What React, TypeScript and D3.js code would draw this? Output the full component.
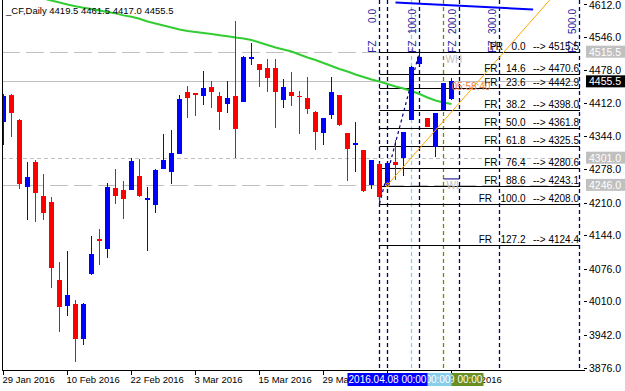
import React from "react";
import * as d3 from "d3";

// daily bars, index 0 = 29 Jan 2016
const opens = [4374, 4428, 4377, 4242, 4292, 4224, 4211, 4054, 4001, 4005, 3935, 4066, 4137, 4117, 4240, 4236, 4236, 4264, 4216, 4206, 4279, 4273, 4309, 4434, 4431, 4426, 4444, 4426, 4410, 4426, 4414, 4501, 4491, 4483, 4483, 4418, 4434, 4426, 4422, 4393, 4350, 4388, 4428, 4351, 4327, 4317, 4246, 4288, 4246, 4293, 4300, 4377, 4491, 4381, 4323, 4398, 4419.5];
const highs = [4430, 4430, 4379, 4292, 4296, 4268, 4221, 4090, 4112, 4013, 4007, 4143, 4157, 4250, 4278, 4254, 4300, 4298, 4242, 4278, 4349, 4357, 4428, 4446, 4431, 4476, 4456, 4434, 4456, 4578, 4507, 4533, 4491, 4501, 4501, 4460, 4474, 4436, 4464, 4396, 4381, 4464, 4428, 4351, 4373, 4317, 4296, 4290, 4291, 4337, 4352, 4486, 4515.5, 4381, 4391, 4452, 4461.5];
const lows = [4327, 4343, 4238, 4174, 4171, 4175, 4038, 3949, 3981, 3888, 3921, 4064, 4084, 4099, 4208, 4177, 4236, 4221, 4113, 4190, 4279, 4248, 4309, 4381, 4386, 4408, 4402, 4357, 4391, 4301, 4414, 4489, 4445, 4434, 4362, 4402, 4406, 4348, 4390, 4317, 4327, 4380, 4366, 4254, 4273, 4232, 4238, 4208, 4242, 4256, 4263, 4377, 4486, 4363, 4303, 4398, 4417];
const closes = [4426, 4392, 4248, 4262, 4230, 4190, 4078, 3999, 4023, 3935, 4005, 4106, 4133, 4242, 4224, 4218, 4294, 4224, 4219, 4276, 4296, 4311, 4420, 4422, 4430, 4442, 4434, 4394, 4422, 4360, 4505, 4505, 4478, 4463, 4433, 4444, 4426, 4424, 4400, 4352, 4381, 4434, 4368, 4319, 4330, 4234, 4296, 4222, 4291, 4286, 4352, 4485, 4505, 4363, 4391, 4452, 4455.5];

// moving average, first value belongs to bar 5
const maStart = 5;
const maValues = [4623, 4619, 4615, 4611, 4607.5, 4604.5, 4602, 4599, 4596, 4593, 4589, 4586, 4582, 4576.6, 4572.5, 4568.5, 4564.4, 4560.4, 4557.4, 4555.3, 4553.3, 4551.3, 4548.9, 4546.6, 4544.2, 4542.2, 4539.1, 4534, 4529, 4524, 4520, 4515.9, 4509.8, 4503.7, 4498.7, 4492.6, 4486.5, 4480.5, 4475.4, 4469.3, 4464.3, 4459.2, 4455.2, 4450.1, 4445.1, 4441, 4436, 4429.9, 4422.8, 4416.7, 4412.7, 4409.6];

const priceTicks = [4612, 4546, 4478, 4412, 4344, 4278, 4210, 4144, 4076, 4010, 3942, 3876];
const dateTickBars = [0, 8, 16, 24, 32, 40, 48, 56];
const dateTickLabels = ["29 Jan 2016", "10 Feb 2016", "22 Feb 2016", "3 Mar 2016", "15 Mar 2016", "29 Mar 2016", "", "20 Apr 2016"];

// fibo retracement
const fibLevels = ["0.0", "14.6", "23.6", "38.2", "50.0", "61.8", "76.4", "88.6", "100.0", "127.2"];
const fibPrices = [4515.5, 4470.6, 4442.9, 4398.0, 4361.8, 4325.5, 4280.6, 4243.1, 4208.0, 4124.4];
const fibStartBar = 47;
const fibAnchorBars = [47, 52];
const fibAnchorPrices = [4208.0, 4515.5];

// fibo time zones
const fzBars = [47, 52, 57, 62, 72];
const fzLabels = ["0.0", "100.0", "200.0", "300.0", "500.0"];

// horizontal price levels
const levelPrices = [4515.5, 4455.5, 4301.0, 4246.0];
const levelDash = ["18 6", "", "4 3", "18 6"];
const levelBoxFill = ["#c0c0c0", "#000000", "#c0c0c0", "#c0c0c0"];

// vertical markers with bottom date boxes (drawn back to front)
const markerBars = [55, 51, 48];
const markerLabels = ["2016.04.19 00:00", "2016.04.13 00:00", "2016.04.08 00:00"];
const markerColors = ["#6b8e23", "#87ceeb", "#0000ff"];
const markerLineColors = ["#808000", "#87ceeb", "#000080"];

// trend lines [bar, price]
const orangeLine: [number, number][] = [[48, 4246], [70, 4652]];
const blueTopLine: [number, number][] = [[49, 4615], [66.2, 4601]];
const weekLowBars = [55, 57];
const weekLowPrice = 4258;
const weekHighPrice = 4515.5;

const W = 625;
const H = 391;
const left = 2;
const right = 580;
const bottom = 370;
const font = "Tahoma, 'Liberation Sans', Arial, sans-serif";

// rough Arial advance widths for numbers at a given size
const numWidth = (s: string, size: number) =>
  s.split("").reduce((a, ch) => a + (ch === "." ? 0.278 : 0.556) * size, 0);

const App: React.FC = () => {
  const x = d3.scaleLinear().domain([0, 72]).range([3.5, 579.5]);
  const y = d3.scaleLinear().domain([3876, 4612]).range([367.7, 4]);

  const ma = d3
    .line<number>()
    .x((_, i) => x(i + maStart))
    .y((d) => y(d));
  const seg = d3
    .line<[number, number]>()
    .x((d) => x(d[0]))
    .y((d) => y(d[1]));

  return (
    <div style={{ position: "fixed", left: 0, top: 0 }}>
      <svg width={W} height={H} style={{ display: "block", background: "#fff" }} fontFamily={font}>
        <defs>
          <clipPath id="plot">
            <rect x={left} y={0} width={right - left + 1} height={bottom} />
          </clipPath>
        </defs>

        <g clipPath="url(#plot)">
          {levelPrices.map((p, i) => (
            <line key={"lv" + i} x1={left} x2={right} y1={Math.round(y(p)) + 0.5} y2={Math.round(y(p)) + 0.5}
              stroke="#c0c0c0" strokeWidth={1} strokeDasharray={levelDash[i] || undefined} />
          ))}

          {fzBars.map((b, i) => (
            <line key={"fz" + i} x1={x(b)} x2={x(b)} y1={0} y2={bottom} stroke="#000080" strokeWidth={1.3} strokeDasharray="4 3" />
          ))}
          {markerBars.map((b, i) => (
            <line key={"mk" + i} x1={x(b)} x2={x(b)} y1={0} y2={bottom} stroke={markerLineColors[i]} strokeWidth={1.3} strokeDasharray="4 3" />
          ))}

          {fibPrices.map((p, i) => (
            <line key={"fr" + i} x1={x(fibStartBar)} x2={right} y1={Math.round(y(p)) + 0.5} y2={Math.round(y(p)) + 0.5} stroke="#000" strokeWidth={1} />
          ))}

          <path d={ma(maValues) || ""} fill="none" stroke="#32cd32" strokeWidth={2} />

          <g shapeRendering="crispEdges">
            {opens.map((o, i) => {
              const c = closes[i];
              const col = c >= o ? "#0000ff" : "#ff0000";
              const top = y(Math.max(o, c));
              const bot = y(Math.min(o, c));
              const cx = x(i);
              return (
                <g key={"c" + i}>
                  <rect x={cx - 0.5} y={y(highs[i])} width={1.2} height={Math.max(1, y(lows[i]) - y(highs[i]))} fill={col} />
                  <rect x={cx - 2.5} y={top} width={5} height={Math.max(1.5, bot - top)} fill={col} />
                </g>
              );
            })}
          </g>

          <path d={seg(fibAnchorBars.map((b, i) => [b, fibAnchorPrices[i]] as [number, number])) || ""} fill="none" stroke="#000080" strokeWidth={1.2} strokeDasharray="3 3" />
          <path d={seg(orangeLine) || ""} fill="none" stroke="#ffa500" strokeWidth={1} />
          <circle cx={x(orangeLine[0][0])} cy={y(orangeLine[0][1])} r={1.8} fill="none" stroke="#ffa500" />
          <path d={seg(blueTopLine) || ""} fill="none" stroke="#0000ff" strokeWidth={2} />

          <line x1={x(weekLowBars[0])} x2={x(weekLowBars[1])} y1={y(weekLowPrice)} y2={y(weekLowPrice)} stroke="#000080" strokeWidth={1} />
          <text x={x(weekLowBars[0]) + 2} y={y(weekHighPrice) + 11} fontSize={10} fill="#c0c0c0">WH</text>
          <text x={x(weekLowBars[0]) + 3} y={y(weekLowPrice) + 10} fontSize={10} fill="#c0c0c0">WL</text>

          {fzBars.map((b, i) => (
            <g key={"fzl" + i} fontSize={10} fill="#22229a">
              <text transform={`translate(${x(b) - 3.5},${y(fibPrices[0]) + 1}) rotate(-90)`}>FZ</text>
              <text transform={`translate(${x(b) - 3.5},9) rotate(-90)`} textAnchor="end">{fzLabels[i]}</text>
            </g>
          ))}

          {fibLevels.map((lv, i) => {
            const ty = Math.round(y(fibPrices[i])) - 2;
            const lvEnd = 525.5;
            return (
              <g key={"frl" + i} fontSize={10} fill="#000">
                <text x={lvEnd - numWidth(lv, 10) - 8.5} y={ty} textAnchor="end">FR</text>
                <text x={lvEnd} y={ty} textAnchor="end">{lv}</text>
                <text x={545.5} y={ty} textAnchor="end">--&gt;</text>
                <text x={579} y={ty} textAnchor="end">{fibPrices[i].toFixed(1)}</text>
              </g>
            );
          })}

          <text x={x(56)} y={y(closes[56]) + 9} fontSize={10} fill="#f08040">05:58:40</text>
        </g>

        <text x={6} y={14} fontSize={9.5} fill="#000">_CF,Daily  4419.5 4461.5 4417.0 4455.5</text>

        {/* frame */}
        <line x1={left + 0.5} x2={left + 0.5} y1={0} y2={bottom} stroke="#000" />
        <line x1={left} x2={585} y1={bottom + 0.5} y2={bottom + 0.5} stroke="#000" />

        {/* right axis */}
        {priceTicks.map((p) => (
          <g key={"pt" + p}>
            <line x1={584} x2={587} y1={Math.round(y(p)) + 0.5} y2={Math.round(y(p)) + 0.5} stroke="#000" />
            <text x={589} y={Math.max(9, y(p) + 4)} fontSize={10.5}>{p.toFixed(1)}</text>
          </g>
        ))}
        {levelPrices.map((p, i) => (
          <g key={"pb" + i}>
            <rect x={586} y={y(p) - 6} width={39} height={12} fill={levelBoxFill[i]} />
            <text x={589} y={y(p) + 4} fontSize={10.5} fill="#fff">{p.toFixed(1)}</text>
          </g>
        ))}

        {/* bottom axis */}
        {dateTickBars.map((b, i) => (
          <g key={"dt" + i}>
            <line x1={x(b)} x2={x(b)} y1={bottom} y2={bottom + 5} stroke="#000" />
            {dateTickLabels[i] && <text x={x(b) - 1} y={383} fontSize={9.5}>{dateTickLabels[i]}</text>}
          </g>
        ))}
        {markerBars.map((b, i) => (
          <g key={"mb" + i}>
            <rect x={x(b) - 40} y={373} width={80} height={13} fill={markerColors[i]} />
            <text x={x(b)} y={383} fontSize={10} fill="#fff" textAnchor="middle">{markerLabels[i]}</text>
          </g>
        ))}
      </svg>
    </div>
  );
};

export default App;
